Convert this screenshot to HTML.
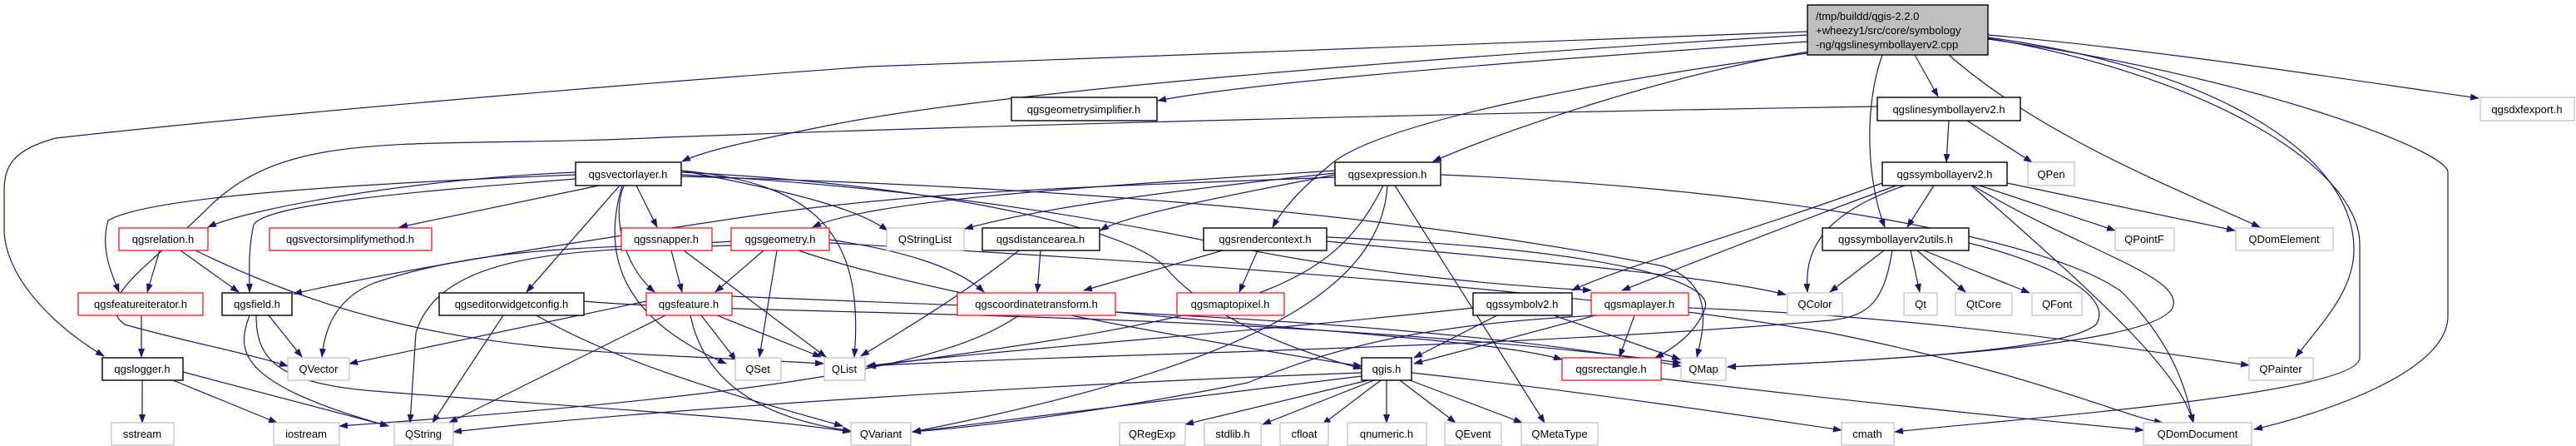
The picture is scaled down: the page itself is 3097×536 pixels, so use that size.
<!DOCTYPE html>
<html><head><meta charset="utf-8"><style>
html,body{margin:0;padding:0;background:#fff;width:3097px;height:536px;overflow:hidden}
svg{display:block}
text{font-family:"Liberation Sans",sans-serif;font-size:13px;fill:#000}
.e{fill:none;stroke:#191970;stroke-width:1.2;marker-end:url(#a)}
.b{fill:#fff;stroke:#000;stroke-width:1.4}
.r{fill:#fff;stroke:#ff0000;stroke-width:1.2}
.g{fill:#fff;stroke:#bfbfbf;stroke-width:1.2}
</style></head><body>
<svg width="3097" height="536" viewBox="0 0 3097 536" xmlns="http://www.w3.org/2000/svg">
<defs><marker id="a" markerWidth="11" markerHeight="8" refX="10" refY="4" orient="auto" markerUnits="userSpaceOnUse"><path d="M0,0 L11,4 L0,8z" fill="#191970"/></marker></defs>
<g>
<!-- root edges -->
<path class="e" d="M2173,38 L1045,80 C700,105 300,140 67,166 C15,180 5,200 5,230 L5,280 C10,340 70,395 125,428"/>
<path class="e" d="M2173,42 C1700,70 1200,110 1000,150 C900,170 850,180 820,194"/>
<path class="e" d="M2173,50 C1800,75 1500,100 1392,121"/>
<path class="e" d="M2175,62 C2000,90 1800,160 1723,194"/>
<path class="e" d="M2173,64 C1900,100 1650,150 1597,200 C1560,230 1540,255 1530,273"/>
<path class="e" d="M2302,66 L2330,116"/>
<path class="e" d="M2263,66 C2240,130 2245,220 2266,273"/>
<path class="e" d="M2343,66 C2450,160 2600,220 2717,273"/>
<path class="e" d="M2390,42 C2600,60 2850,100 2980,118"/>
<path class="e" d="M2390,45 C2650,80 2830,180 2830,300 C2830,350 2790,390 2760,429"/>
<path class="e" d="M2390,47 C2700,90 2943,180 2943,207 L2943,380 C2943,450 2780,500 2710,516"/>
<path class="e" d="M2390,46 C2650,90 2837,200 2837,294 L2837,430 C2837,475 2400,505 2278,519"/>
<!-- vectorlayer -->
<path class="e" d="M692,207 C500,215 300,250 250,273"/>
<path class="e" d="M720,223 L480,273"/>
<path class="e" d="M765,223 L790,273"/>
<path class="e" d="M692,210 C450,220 180,235 130,265 C120,300 135,330 143,351"/>
<path class="e" d="M692,215 C500,230 320,245 305,270 C298,300 300,330 300,351"/>
<path class="e" d="M745,223 L633,351"/>
<path class="e" d="M750,223 C735,260 750,320 787,351"/>
<path class="e" d="M748,223 C725,300 740,380 873,437"/>
<path class="e" d="M819,205 C980,220 1040,280 1027,429"/>
<path class="e" d="M819,205 C950,230 1030,250 1067,277"/>
<path class="e" d="M819,207 C1100,220 1350,270 1400,320 C1450,380 1550,420 1637,443"/>
<path class="e" d="M819,210 C1200,230 1450,290 1500,300 C1600,320 1750,340 1913,349"/>
<path class="e" d="M819,212 C1300,225 1700,260 2000,320 C2060,340 2050,390 2040,429"/>
<!-- relation -->
<path class="e" d="M192,301 L177,351"/>
<path class="e" d="M217,301 L287,351"/>
<path class="e" d="M235,301 C500,430 700,420 990,437"/>
<!-- geometry -->
<path class="e" d="M918,301 L860,351"/>
<path class="e" d="M934,301 L913,429"/>
<path class="e" d="M879,290 C750,300 600,290 450,340 C400,360 390,400 387,429"/>
<path class="e" d="M879,295 C700,300 530,300 500,400 L493,508"/>
<path class="e" d="M997,288 C1080,300 1150,320 1183,351"/>
<path class="e" d="M960,301 C1100,350 1500,420 1637,440"/>
<path class="e" d="M997,292 C1500,320 1900,350 2200,400 C2450,450 2550,500 2600,508"/>
<!-- snapper -->
<path class="e" d="M807,301 L820,351"/>
<path class="e" d="M822,301 L993,429"/>
<!-- featureiterator / field / ewc / feature / logger -->
<path class="e" d="M170,379 L170,429"/>
<path class="e" d="M323,379 L363,429"/>
<path class="e" d="M300,379 C285,420 280,460 467,512"/>
<path class="e" d="M308,379 C308,430 330,460 450,470 C700,490 900,500 1023,519"/>
<path class="e" d="M605,379 L520,508"/>
<path class="e" d="M645,379 C750,440 900,480 1013,512"/>
<path class="e" d="M702,362 C900,380 1500,370 2021,436"/>
<path class="e" d="M777,362 L420,437"/>
<path class="e" d="M800,379 L540,508"/>
<path class="e" d="M843,379 L885,433"/>
<path class="e" d="M862,379 L987,429"/>
<path class="e" d="M830,379 C845,450 900,500 1023,518"/>
<path class="e" d="M880,356 C1200,370 1700,380 2021,440"/>
<path class="e" d="M171,457 L171,508"/>
<path class="e" d="M208,457 L333,508"/>
<path class="e" d="M220,447 L467,512"/>
<!-- expression -->
<path class="e" d="M1605,208 C1400,230 1250,250 1160,275"/>
<path class="e" d="M1605,210 C1450,240 1350,260 1323,277"/>
<path class="e" d="M1663,223 C1600,350 1500,380 1043,441"/>
<path class="e" d="M1668,223 C1660,350 1500,440 1097,519"/>
<path class="e" d="M1677,223 L1857,508"/>
<path class="e" d="M1605,213 C1300,225 1100,230 900,260 C700,290 500,320 353,353"/>
<path class="e" d="M1605,205 C1300,225 1050,240 977,273"/>
<path class="e" d="M1732,210 C2100,225 2450,280 2550,350 C2620,420 2630,480 2637,508"/>
<!-- distancearea / rendercontext / coordtransform -->
<path class="e" d="M1251,301 L1247,351"/>
<path class="e" d="M1225,301 C1150,360 1080,400 1035,428"/>
<path class="e" d="M1512,301 L1490,351"/>
<path class="e" d="M1470,301 L1303,349"/>
<path class="e" d="M1595,290 C1800,310 2050,330 2147,354"/>
<path class="e" d="M1595,285 C1950,300 2060,340 2050,370 C2040,400 2010,420 1990,430"/>
<path class="e" d="M1225,379 C1150,430 1000,470 408,512"/>
<path class="e" d="M1341,375 C1600,400 1800,410 1878,432"/>
<!-- symbolv2 / maplayer -->
<path class="e" d="M1800,379 L1700,430"/>
<path class="e" d="M1771,370 C1500,400 1200,420 1042,440"/>
<path class="e" d="M1868,379 L2020,432"/>
<path class="e" d="M1918,379 L1700,437"/>
<path class="e" d="M1965,379 L1947,429"/>
<path class="e" d="M2030,370 C2300,380 2500,410 2704,439"/>
<path class="e" d="M1920,379 C1700,390 1600,420 1500,460 C1300,500 1150,515 1097,519"/>
<!-- qgis -->
<path class="e" d="M1645,457 L1425,510"/>
<path class="e" d="M1652,457 L1518,510"/>
<path class="e" d="M1660,457 L1590,510"/>
<path class="e" d="M1667,457 L1667,508"/>
<path class="e" d="M1683,457 L1750,508"/>
<path class="e" d="M1695,457 L1830,508"/>
<path class="e" d="M1637,448 C1300,460 800,490 545,519"/>
<path class="e" d="M1637,452 C1400,480 1200,505 1097,519"/>
<path class="e" d="M1697,448 C1900,470 2100,500 2214,517"/>
<path class="e" d="M1997,455 C2200,480 2450,505 2577,517"/>
<!-- linesymbollayer / symbollayer / utils -->
<path class="e" d="M2343,145 L2340,195"/>
<path class="e" d="M2365,145 L2443,195"/>
<path class="e" d="M2257,128 C1800,135 1200,150 800,165 C500,180 350,150 250,250 C180,320 110,360 150,390 C220,410 300,425 346,440"/>
<path class="e" d="M2325,223 L2293,273"/>
<path class="e" d="M2380,223 L2543,277"/>
<path class="e" d="M2413,220 L2687,277"/>
<path class="e" d="M2290,223 C2180,260 2170,310 2173,351"/>
<path class="e" d="M2370,223 C2550,380 2620,450 2637,508"/>
<path class="e" d="M2263,220 C2100,280 1950,320 1890,349"/>
<path class="e" d="M2280,223 C2150,270 2000,330 1950,349"/>
<path class="e" d="M2370,222 C2500,300 2620,330 2613,367 C2600,420 2200,435 2077,441"/>
<path class="e" d="M2265,301 L2200,351"/>
<path class="e" d="M2297,301 L2308,351"/>
<path class="e" d="M2305,301 L2363,351"/>
<path class="e" d="M2313,301 L2440,352"/>
<path class="e" d="M2367,292 C2480,320 2540,360 2520,390 C2480,425 2200,435 2077,441"/>
<path class="e" d="M2275,301 C2265,360 2250,380 2200,385 C1800,420 1300,425 1042,440"/>
</g>
<!-- nodes -->
<rect x="2173" y="6" width="217" height="60" fill="#bfbfbf" stroke="#000" stroke-width="1.4"/>
<text x="2183" y="24">/tmp/buildd/qgis-2.2.0</text>
<text x="2183" y="41">+wheezy1/src/core/symbology</text>
<text x="2183" y="58">-ng/qgslinesymbollayerv2.cpp</text>

<rect class="b" x="692" y="195" width="127" height="28"/><text x="755" y="214" text-anchor="middle">qgsvectorlayer.h</text>
<rect class="r" x="143" y="274" width="107" height="27"/><text x="196" y="292" text-anchor="middle">qgsrelation.h</text>
<rect class="r" x="324" y="274" width="195" height="27"/><text x="421" y="292" text-anchor="middle">qgsvectorsimplifymethod.h</text>
<rect class="r" x="747" y="274" width="109" height="27"/><text x="801" y="292" text-anchor="middle">qgssnapper.h</text>
<rect class="r" x="879" y="274" width="118" height="27"/><text x="938" y="292" text-anchor="middle">qgsgeometry.h</text>
<rect class="r" x="94" y="352" width="150" height="27"/><text x="169" y="370" text-anchor="middle">qgsfeatureiterator.h</text>
<rect class="b" x="267" y="352" width="84" height="27"/><text x="309" y="370" text-anchor="middle">qgsfield.h</text>
<rect class="b" x="528" y="352" width="174" height="27"/><text x="615" y="370" text-anchor="middle">qgseditorwidgetconfig.h</text>
<rect class="r" x="777" y="352" width="103" height="27"/><text x="828" y="370" text-anchor="middle">qgsfeature.h</text>
<rect class="b" x="123" y="430" width="97" height="27"/><text x="171" y="448" text-anchor="middle">qgslogger.h</text>
<rect class="g" x="346" y="430" width="74" height="27"/><text x="383" y="448" text-anchor="middle">QVector</text>
<rect class="g" x="884" y="430" width="55" height="27"/><text x="911" y="448" text-anchor="middle">QSet</text>
<rect class="g" x="991" y="430" width="49" height="27"/><text x="1015" y="448" text-anchor="middle">QList</text>
<rect class="g" x="134" y="508" width="75" height="27"/><text x="171" y="526" text-anchor="middle">sstream</text>
<rect class="g" x="329" y="508" width="79" height="27"/><text x="368" y="526" text-anchor="middle">iostream</text>
<rect class="g" x="474" y="508" width="71" height="27"/><text x="509" y="526" text-anchor="middle">QString</text>
<rect class="g" x="1023" y="508" width="72" height="27"/><text x="1059" y="526" text-anchor="middle">QVariant</text>

<rect class="b" x="1216" y="117" width="175" height="28"/><text x="1303" y="136" text-anchor="middle">qgsgeometrysimplifier.h</text>
<rect class="b" x="1605" y="195" width="127" height="28"/><text x="1668" y="214" text-anchor="middle">qgsexpression.h</text>
<rect class="g" x="1066" y="274" width="93" height="27"/><text x="1112" y="292" text-anchor="middle">QStringList</text>
<rect class="b" x="1181" y="274" width="141" height="27"/><text x="1251" y="292" text-anchor="middle">qgsdistancearea.h</text>
<rect class="b" x="1447" y="274" width="148" height="27"/><text x="1521" y="292" text-anchor="middle">qgsrendercontext.h</text>
<rect class="r" x="1151" y="352" width="190" height="27"/><text x="1246" y="370" text-anchor="middle">qgscoordinatetransform.h</text>
<rect class="r" x="1415" y="352" width="129" height="27"/><text x="1479" y="370" text-anchor="middle">qgsmaptopixel.h</text>
<rect class="b" x="1771" y="352" width="119" height="27"/><text x="1830" y="370" text-anchor="middle">qgssymbolv2.h</text>
<rect class="r" x="1913" y="352" width="117" height="27"/><text x="1971" y="370" text-anchor="middle">qgsmaplayer.h</text>
<rect class="b" x="1637" y="430" width="60" height="27"/><text x="1667" y="448" text-anchor="middle">qgis.h</text>
<rect class="r" x="1878" y="430" width="119" height="27"/><text x="1937" y="448" text-anchor="middle">qgsrectangle.h</text>
<rect class="g" x="2021" y="430" width="54" height="27"/><text x="2048" y="448" text-anchor="middle">QMap</text>
<rect class="g" x="1346" y="508" width="79" height="27"/><text x="1385" y="526" text-anchor="middle">QRegExp</text>
<rect class="g" x="1448" y="508" width="68" height="27"/><text x="1482" y="526" text-anchor="middle">stdlib.h</text>
<rect class="g" x="1539" y="508" width="58" height="27"/><text x="1568" y="526" text-anchor="middle">cfloat</text>
<rect class="g" x="1620" y="508" width="95" height="27"/><text x="1667" y="526" text-anchor="middle">qnumeric.h</text>
<rect class="g" x="1737" y="508" width="68" height="27"/><text x="1771" y="526" text-anchor="middle">QEvent</text>
<rect class="g" x="1829" y="508" width="92" height="27"/><text x="1875" y="526" text-anchor="middle">QMetaType</text>

<rect class="b" x="2257" y="117" width="172" height="28"/><text x="2343" y="136" text-anchor="middle">qgslinesymbollayerv2.h</text>
<rect class="g" x="2982" y="117" width="113" height="28"/><text x="3038" y="136" text-anchor="middle">qgsdxfexport.h</text>
<rect class="b" x="2263" y="195" width="150" height="28"/><text x="2338" y="214" text-anchor="middle">qgssymbollayerv2.h</text>
<rect class="g" x="2438" y="195" width="56" height="28"/><text x="2466" y="214" text-anchor="middle">QPen</text>
<rect class="b" x="2191" y="274" width="176" height="27"/><text x="2279" y="292" text-anchor="middle">qgssymbollayerv2utils.h</text>
<rect class="g" x="2543" y="274" width="71" height="27"/><text x="2578" y="292" text-anchor="middle">QPointF</text>
<rect class="g" x="2688" y="274" width="117" height="27"/><text x="2746" y="292" text-anchor="middle">QDomElement</text>
<rect class="g" x="2149" y="352" width="66" height="27"/><text x="2182" y="370" text-anchor="middle">QColor</text>
<rect class="g" x="2289" y="352" width="40" height="27"/><text x="2309" y="370" text-anchor="middle">Qt</text>
<rect class="g" x="2351" y="352" width="68" height="27"/><text x="2385" y="370" text-anchor="middle">QtCore</text>
<rect class="g" x="2443" y="352" width="60" height="27"/><text x="2473" y="370" text-anchor="middle">QFont</text>
<rect class="g" x="2704" y="430" width="77" height="27"/><text x="2742" y="448" text-anchor="middle">QPainter</text>
<rect class="g" x="2214" y="508" width="63" height="27"/><text x="2245" y="526" text-anchor="middle">cmath</text>
<rect class="g" x="2577" y="508" width="130" height="27"/><text x="2642" y="526" text-anchor="middle">QDomDocument</text>
</svg>
</body></html>
